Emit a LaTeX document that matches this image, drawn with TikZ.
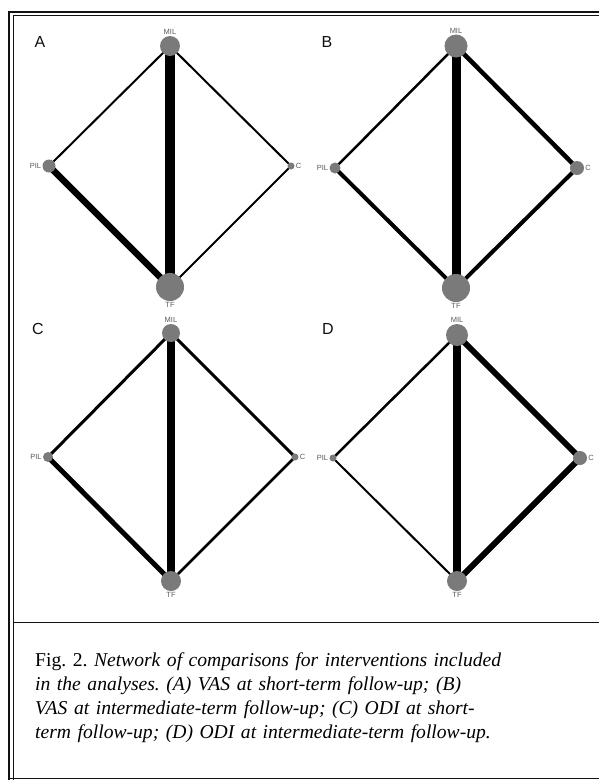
\documentclass[tikz,border=0pt]{standalone}
\usepackage{fontspec}
\setmainfont{Liberation Serif}
\setsansfont{Liberation Sans}
\usepackage{xcolor}
\usepackage{tikz}
\usetikzlibrary{positioning, backgrounds}
\definecolor{DotGray}{HTML}{7a7a7a}
\definecolor{LabelGray}{HTML}{5a5a5a}
\definecolor{FrameBlack}{HTML}{111111}
\frenchspacing

\begin{document}
\begin{tikzpicture}[
    x=1pt, y=-1pt,
    dot/.style={circle, fill=DotGray, inner sep=0pt},
    lbl/.style={font=\sffamily\fontsize{7.5}{8}\selectfont, color=LabelGray, inner sep=1pt},
    panel/.style={font=\sffamily\fontsize{16}{17}\selectfont, color=FrameBlack, inner sep=0pt},
    link/.style={color=black, line cap=butt}
]
\useasboundingbox (0,0) rectangle (599,780);

% frame
\draw[line width=2pt, FrameBlack] (599,12) -- (9,12) -- (9,780);
\draw[line width=0.9pt, FrameBlack] (599,15.5) -- (13,15.5) -- (13,780);
\draw[line width=1pt, FrameBlack] (9,778) -- (599,778);
\draw[line width=1pt, FrameBlack] (13,622) -- (599,622);

% panel A
\node[panel] (lettA) at (40,42) {A};
\node[dot, minimum size=20pt, label={[lbl]above:MIL}] (milA) at (170,46) {};
\node[dot, minimum size=13pt, label={[lbl]left:PIL}] (pilA) at (49,166) {};
\node[dot, minimum size=7pt, label={[lbl]right:C}] (cA) at (291,166) {};
\node[dot, minimum size=28pt, label={[lbl]below:TF}] (tfA) at (170,287) {};

% panel B
\node[panel] (lettB) at (327,42) {B};
\node[dot, minimum size=23pt, label={[lbl]above:MIL}] (milB) at (456,46) {};
\node[dot, minimum size=11pt, label={[lbl]left:PIL}] (pilB) at (335,168) {};
\node[dot, minimum size=14pt, label={[lbl]right:C}] (cB) at (577,168) {};
\node[dot, minimum size=28pt, label={[lbl]below:TF}] (tfB) at (456,288) {};

% panel C
\node[panel] (lettC) at (38,329) {C};
\node[dot, minimum size=18pt, label={[lbl]above:MIL}] (milC) at (171,333) {};
\node[dot, minimum size=10pt, label={[lbl]left:PIL}] (pilC) at (48,457) {};
\node[dot, minimum size=7pt, label={[lbl]right:C}] (cC) at (295,457) {};
\node[dot, minimum size=20pt, label={[lbl]below:TF}] (tfC) at (171,581) {};

% panel D
\node[panel] (lettD) at (328,329) {D};
\node[dot, minimum size=22pt, label={[lbl]above:MIL}] (milD) at (457,335) {};
\node[dot, minimum size=7pt, label={[lbl]left:PIL}] (pilD) at (333,458) {};
\node[dot, minimum size=14pt, label={[lbl]right:C}] (cD) at (580,458) {};
\node[dot, minimum size=20pt, label={[lbl]below:TF}] (tfD) at (457,581) {};

\begin{scope}[on background layer]
\draw[link, line width=10pt] (milA.center) -- (tfA.center);
\draw[link, line width=6.5pt] (pilA.center) -- (tfA.center);
\draw[link, line width=2pt] (pilA.center) -- (milA.center);
\draw[link, line width=2pt] (milA.center) -- (cA.center);
\draw[link, line width=2pt] (cA.center) -- (tfA.center);

\draw[link, line width=9pt] (milB.center) -- (tfB.center);
\draw[link, line width=4.5pt] (milB.center) -- (cB.center);
\draw[link, line width=4pt] (pilB.center) -- (tfB.center);
\draw[link, line width=4pt] (cB.center) -- (tfB.center);
\draw[link, line width=2.5pt] (pilB.center) -- (milB.center);

\draw[link, line width=8pt] (milC.center) -- (tfC.center);
\draw[link, line width=5pt] (pilC.center) -- (tfC.center);
\draw[link, line width=3pt] (pilC.center) -- (milC.center);
\draw[link, line width=3pt] (milC.center) -- (cC.center);
\draw[link, line width=2.5pt] (cC.center) -- (tfC.center);

\draw[link, line width=8pt] (milD.center) -- (tfD.center);
\draw[link, line width=6pt] (milD.center) -- (cD.center);
\draw[link, line width=6pt] (cD.center) -- (tfD.center);
\draw[link, line width=2.5pt] (pilD.center) -- (milD.center);
\draw[link, line width=2pt] (pilD.center) -- (tfD.center);
\end{scope}

% caption
\node[anchor=north west, inner sep=0pt, text width=560pt, align=left,
      font=\fontsize{19.6}{24}\selectfont] (caption) at (35,652)
  {Fig. 2. \itshape Network of comparisons for interventions included\\
   in the analyses. (A) VAS at short-term follow-up; (B)\\
   VAS at intermediate-term follow-up; (C) ODI at short-\\
   term follow-up; (D) ODI at intermediate-term follow-up.};

\end{tikzpicture}
\end{document}
